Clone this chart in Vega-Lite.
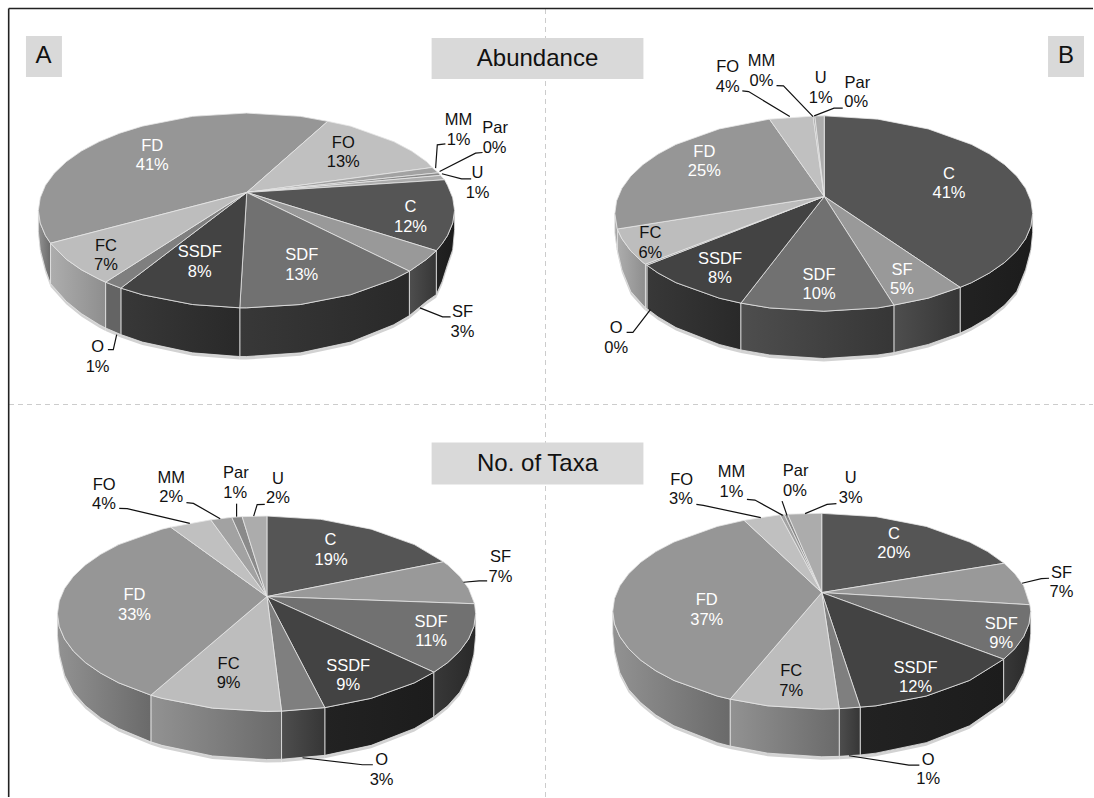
{"$schema":"https://vega.github.io/schema/vega-lite/v6.json","width":1094,"height":798,"padding":0,"autosize":{"type":"fit","contains":"padding"},"background":"white","view":{"stroke":null},
"datasets":{
"frame":[{"x":8.7,"x2":8.7,"y":8.5,"y2":798},{"x":8.7,"x2":1094,"y":8.5,"y2":8.5}],
"dash":[{"x":546,"x2":546,"y":9,"y2":798},{"x":9,"x2":1094,"y":405,"y2":405}],
"boxes":[{"x":26,"x2":62,"y":36,"y2":77},{"x":432,"x2":644,"y":38,"y2":79},{"x":1049,"x2":1085,"y":36,"y2":77},{"x":432,"x2":644,"y":443,"y2":485}],
"titles":[{"t":"A","x":43.5,"y":56.5},{"t":"Abundance","x":538,"y":59},{"t":"B","x":1067,"y":56.5},{"t":"No. of Taxa","x":538,"y":464.5}],
"walls":[
{"w":"aC","tone":"d1","x":455,"y":210.7,"y2":230},{"w":"aC","tone":"d1","x":453.1,"y":223.4,"y2":250},{"w":"aC","tone":"d1","x":447.9,"y":235.9,"y2":265},{"w":"aC","tone":"d1","x":442.5,"y":244,"y2":282},{"w":"aC","tone":"d1","x":436.7,"y":251,"y2":295},
{"w":"aSF","tone":"d3","x":436.7,"y":251,"y2":295},{"w":"aSF","tone":"d3","x":427.1,"y":259.5,"y2":301.7},{"w":"aSF","tone":"d3","x":409.8,"y":271.5,"y2":316},
{"w":"aSDF","tone":"d2","x":409.8,"y":271.5,"y2":316},{"w":"aSDF","tone":"d2","x":394,"y":279.6,"y2":325.2},{"w":"aSDF","tone":"d2","x":350.9,"y":295.1,"y2":342.5},{"w":"aSDF","tone":"d2","x":300.6,"y":304.9,"y2":353.3},{"w":"aSDF","tone":"d2","x":246.7,"y":308.2,"y2":357},{"w":"aSDF","tone":"d2","x":240,"y":308.2,"y2":357},
{"w":"aSSDF","tone":"d2","x":240,"y":308.2,"y2":357},{"w":"aSSDF","tone":"d2","x":192.8,"y":304.9,"y2":353.3},{"w":"aSSDF","tone":"d2","x":142.5,"y":295.1,"y2":342.5},{"w":"aSSDF","tone":"d2","x":121,"y":288.5,"y2":335},
{"w":"aO","tone":"g1","x":121,"y":288.5,"y2":335},{"w":"aO","tone":"g1","x":105.7,"y":282.5,"y2":328.4},
{"w":"aFC","tone":"g3","x":105.7,"y":282.5,"y2":328.4},{"w":"aFC","tone":"g3","x":99.4,"y":279.6,"y2":325.2},{"w":"aFC","tone":"g3","x":81.4,"y":270.1,"y2":314},{"w":"aFC","tone":"g3","x":66.3,"y":259.5,"y2":301.7},{"w":"aFC","tone":"g3","x":50.6,"y":243.5,"y2":284},
{"w":"aFD","tone":"g2","x":50.6,"y":243.5,"y2":284},{"w":"aFD","tone":"g2","x":45.5,"y":235.9,"y2":270},{"w":"aFD","tone":"g2","x":40.3,"y":223.4,"y2":250},{"w":"aFD","tone":"g2","x":38.4,"y":210.7,"y2":232},
{"w":"bC","tone":"d1","x":1033.6,"y":213.8,"y2":233},{"w":"bC","tone":"d1","x":1031.8,"y":226.6,"y2":250},{"w":"bC","tone":"d1","x":1026.5,"y":239.1,"y2":270},{"w":"bC","tone":"d1","x":1017.7,"y":251.2,"y2":291.8},{"w":"bC","tone":"d1","x":1005.6,"y":262.7,"y2":305.4},{"w":"bC","tone":"d1","x":990.4,"y":273.3,"y2":317.3},{"w":"bC","tone":"d1","x":972.4,"y":283,"y2":328},{"w":"bC","tone":"d1","x":961,"y":287.7,"y2":333.5},
{"w":"bSF","tone":"d3","x":961,"y":287.7,"y2":333.5},{"w":"bSF","tone":"d3","x":929.1,"y":298.5,"y2":344.9},{"w":"bSF","tone":"d3","x":894.7,"y":305.5,"y2":353},
{"w":"bSDF","tone":"d3","x":894.7,"y":305.5,"y2":353},{"w":"bSDF","tone":"d3","x":878.6,"y":308.3,"y2":355.4},{"w":"bSDF","tone":"d3","x":824.5,"y":311.6,"y2":359},{"w":"bSDF","tone":"d3","x":770.4,"y":308.3,"y2":355.4},{"w":"bSDF","tone":"d3","x":741.6,"y":303.5,"y2":350.4},
{"w":"bSSDF","tone":"d2","x":741.6,"y":303.5,"y2":350.4},{"w":"bSSDF","tone":"d2","x":719.9,"y":298.5,"y2":344.9},{"w":"bSSDF","tone":"d2","x":676.6,"y":283,"y2":328},{"w":"bSSDF","tone":"d2","x":658.6,"y":273.3,"y2":317.3},{"w":"bSSDF","tone":"d2","x":647.5,"y":265.5,"y2":309},
{"w":"bO","tone":"g1","x":647.5,"y":265.5,"y2":309},{"w":"bO","tone":"g1","x":646,"y":264.5,"y2":308},
{"w":"bFC","tone":"g3","x":646,"y":264.5,"y2":308},{"w":"bFC","tone":"g3","x":643.4,"y":262.7,"y2":305.4},{"w":"bFC","tone":"g3","x":631.3,"y":251.2,"y2":291.8},{"w":"bFC","tone":"g3","x":622.5,"y":239.1,"y2":270},{"w":"bFC","tone":"g3","x":617.8,"y":229.3,"y2":250},
{"w":"bFD","tone":"g3","x":617.8,"y":229.3,"y2":250},{"w":"bFD","tone":"g3","x":615.4,"y":213.8,"y2":233},
{"w":"cSDF","tone":"d2","x":476.1,"y":614.5,"y2":636},{"w":"cSDF","tone":"d2","x":474.3,"y":627.3,"y2":655},{"w":"cSDF","tone":"d2","x":469,"y":639.8,"y2":676},{"w":"cSDF","tone":"d2","x":460.2,"y":651.9,"y2":693},{"w":"cSDF","tone":"d2","x":448.1,"y":663.4,"y2":706.7},{"w":"cSDF","tone":"d2","x":434.3,"y":673,"y2":717.7},
{"w":"cSSDF","tone":"d1","x":434.3,"y":673,"y2":717.7},{"w":"cSSDF","tone":"d1","x":414.8,"y":683.7,"y2":729.4},{"w":"cSSDF","tone":"d1","x":371.5,"y":699.2,"y2":746.3},{"w":"cSSDF","tone":"d1","x":325.1,"y":708.5,"y2":756.3},
{"w":"cO","tone":"d3","x":325.1,"y":708.5,"y2":756.3},{"w":"cO","tone":"d3","x":281.8,"y":712,"y2":760.2},
{"w":"cFC","tone":"g2","x":281.8,"y":712,"y2":760.2},{"w":"cFC","tone":"g2","x":266.8,"y":712.3,"y2":760.5},{"w":"cFC","tone":"g2","x":212.6,"y":709,"y2":756.9},{"w":"cFC","tone":"g2","x":162.1,"y":699.2,"y2":746.3},{"w":"cFC","tone":"g2","x":151,"y":696,"y2":742.8},
{"w":"cFD","tone":"g2","x":151,"y":696,"y2":742.8},{"w":"cFD","tone":"g2","x":118.8,"y":683.7,"y2":729.4},{"w":"cFD","tone":"g2","x":100.8,"y":674,"y2":718.8},{"w":"cFD","tone":"g2","x":85.5,"y":663.4,"y2":706.7},{"w":"cFD","tone":"g2","x":73.4,"y":651.9,"y2":693},{"w":"cFD","tone":"g2","x":64.6,"y":639.8,"y2":676},{"w":"cFD","tone":"g2","x":59.3,"y":627.3,"y2":655},{"w":"cFD","tone":"g2","x":57.5,"y":614.5,"y2":636},
{"w":"dSDF","tone":"d2","x":1031.7,"y":612,"y2":634},{"w":"dSDF","tone":"d2","x":1029.9,"y":624.8,"y2":652},{"w":"dSDF","tone":"d2","x":1024.6,"y":637.4,"y2":673.5},{"w":"dSDF","tone":"d2","x":1015.8,"y":649.5,"y2":690.3},{"w":"dSDF","tone":"d2","x":1004.6,"y":660,"y2":703},
{"w":"dSSDF","tone":"d1","x":1004.6,"y":660,"y2":703},{"w":"dSSDF","tone":"d1","x":970.4,"y":681.3,"y2":726.7},{"w":"dSSDF","tone":"d1","x":927.1,"y":696.9,"y2":743.6},{"w":"dSSDF","tone":"d1","x":876.7,"y":706.7,"y2":754.1},{"w":"dSSDF","tone":"d1","x":861,"y":708,"y2":755.9},
{"w":"dO","tone":"d3","x":861,"y":708,"y2":755.9},{"w":"dO","tone":"d3","x":840,"y":709.5,"y2":757.3},
{"w":"dFC","tone":"g2","x":840,"y":709.5,"y2":757.3},{"w":"dFC","tone":"g2","x":822.5,"y":710,"y2":757.7},{"w":"dFC","tone":"g2","x":768.3,"y":706.7,"y2":754.1},{"w":"dFC","tone":"g2","x":730.8,"y":700,"y2":747},
{"w":"dFD","tone":"g2","x":730.8,"y":700,"y2":747},{"w":"dFD","tone":"g2","x":717.9,"y":696.9,"y2":743.6},{"w":"dFD","tone":"g2","x":674.6,"y":681.3,"y2":726.7},{"w":"dFD","tone":"g2","x":656.5,"y":671.7,"y2":716},{"w":"dFD","tone":"g2","x":641.3,"y":661,"y2":703.5},{"w":"dFD","tone":"g2","x":629.2,"y":649.5,"y2":690.3},{"w":"dFD","tone":"g2","x":620.4,"y":637.4,"y2":673.5},{"w":"dFD","tone":"g2","x":615.1,"y":624.8,"y2":652},{"w":"dFD","tone":"g2","x":613.3,"y":612,"y2":634}
],
"tops":[
{"p":"A","s":"FD","x":247,"y":192.7},{"p":"A","s":"FD","x":50.6,"y":243.5},{"p":"A","s":"FD","x":45.5,"y":235.9},{"p":"A","s":"FD","x":40.3,"y":223.4},{"p":"A","s":"FD","x":38.4,"y":210.7},{"p":"A","s":"FD","x":40.3,"y":198},{"p":"A","s":"FD","x":45.5,"y":185.5},{"p":"A","s":"FD","x":54.3,"y":173.4},{"p":"A","s":"FD","x":66.3,"y":161.9},{"p":"A","s":"FD","x":81.4,"y":151.3},{"p":"A","s":"FD","x":99.4,"y":141.8},{"p":"A","s":"FD","x":119.9,"y":133.3},{"p":"A","s":"FD","x":142.5,"y":126.3},{"p":"A","s":"FD","x":192.8,"y":116.5},{"p":"A","s":"FD","x":246.7,"y":113.2},{"p":"A","s":"FD","x":300.6,"y":116.5},{"p":"A","s":"FD","x":328,"y":121.5},
{"p":"A","s":"FO","x":247,"y":192.7},{"p":"A","s":"FO","x":328,"y":121.5},{"p":"A","s":"FO","x":350.9,"y":126.3},{"p":"A","s":"FO","x":394,"y":141.8},{"p":"A","s":"FO","x":412,"y":151.3},{"p":"A","s":"FO","x":427.1,"y":161.9},{"p":"A","s":"FO","x":432.5,"y":167.7},
{"p":"A","s":"MM","x":247,"y":192.7},{"p":"A","s":"MM","x":432.5,"y":167.7},{"p":"A","s":"MM","x":438.8,"y":173},
{"p":"A","s":"Par","x":247,"y":192.7},{"p":"A","s":"Par","x":438.8,"y":173},{"p":"A","s":"Par","x":441,"y":175.6},
{"p":"A","s":"U","x":247,"y":192.7},{"p":"A","s":"U","x":441,"y":175.6},{"p":"A","s":"U","x":445,"y":180},
{"p":"A","s":"C","x":247,"y":192.7},{"p":"A","s":"C","x":445,"y":180},{"p":"A","s":"C","x":447.9,"y":185.5},{"p":"A","s":"C","x":453.1,"y":198},{"p":"A","s":"C","x":455,"y":210.7},{"p":"A","s":"C","x":453.1,"y":223.4},{"p":"A","s":"C","x":447.9,"y":235.9},{"p":"A","s":"C","x":442.5,"y":244},{"p":"A","s":"C","x":436.7,"y":251},
{"p":"A","s":"SF","x":247,"y":192.7},{"p":"A","s":"SF","x":436.7,"y":251},{"p":"A","s":"SF","x":427.1,"y":259.5},{"p":"A","s":"SF","x":409.8,"y":271.5},
{"p":"A","s":"SDF","x":247,"y":192.7},{"p":"A","s":"SDF","x":409.8,"y":271.5},{"p":"A","s":"SDF","x":394,"y":279.6},{"p":"A","s":"SDF","x":350.9,"y":295.1},{"p":"A","s":"SDF","x":300.6,"y":304.9},{"p":"A","s":"SDF","x":246.7,"y":308.2},{"p":"A","s":"SDF","x":240,"y":308.2},
{"p":"A","s":"SSDF","x":247,"y":192.7},{"p":"A","s":"SSDF","x":240,"y":308.2},{"p":"A","s":"SSDF","x":192.8,"y":304.9},{"p":"A","s":"SSDF","x":142.5,"y":295.1},{"p":"A","s":"SSDF","x":121,"y":288.5},
{"p":"A","s":"O","x":247,"y":192.7},{"p":"A","s":"O","x":121,"y":288.5},{"p":"A","s":"O","x":105.7,"y":282.5},
{"p":"A","s":"FC","x":247,"y":192.7},{"p":"A","s":"FC","x":105.7,"y":282.5},{"p":"A","s":"FC","x":99.4,"y":279.6},{"p":"A","s":"FC","x":81.4,"y":270.1},{"p":"A","s":"FC","x":66.3,"y":259.5},{"p":"A","s":"FC","x":50.6,"y":243.5},
{"p":"B","s":"C","x":825,"y":196.7},{"p":"B","s":"C","x":825,"y":116},{"p":"B","s":"C","x":878.6,"y":119.3},{"p":"B","s":"C","x":929.1,"y":129.1},{"p":"B","s":"C","x":972.4,"y":144.6},{"p":"B","s":"C","x":990.4,"y":154.3},{"p":"B","s":"C","x":1005.6,"y":164.9},{"p":"B","s":"C","x":1017.7,"y":176.4},{"p":"B","s":"C","x":1026.5,"y":188.5},{"p":"B","s":"C","x":1031.8,"y":201},{"p":"B","s":"C","x":1033.6,"y":213.8},{"p":"B","s":"C","x":1031.8,"y":226.6},{"p":"B","s":"C","x":1026.5,"y":239.1},{"p":"B","s":"C","x":1017.7,"y":251.2},{"p":"B","s":"C","x":1005.6,"y":262.7},{"p":"B","s":"C","x":990.4,"y":273.3},{"p":"B","s":"C","x":972.4,"y":283},{"p":"B","s":"C","x":961,"y":287.7},
{"p":"B","s":"SF","x":825,"y":196.7},{"p":"B","s":"SF","x":961,"y":287.7},{"p":"B","s":"SF","x":929.1,"y":298.5},{"p":"B","s":"SF","x":894.7,"y":305.5},
{"p":"B","s":"SDF","x":825,"y":196.7},{"p":"B","s":"SDF","x":894.7,"y":305.5},{"p":"B","s":"SDF","x":878.6,"y":308.3},{"p":"B","s":"SDF","x":824.5,"y":311.6},{"p":"B","s":"SDF","x":770.4,"y":308.3},{"p":"B","s":"SDF","x":741.6,"y":303.5},
{"p":"B","s":"SSDF","x":825,"y":196.7},{"p":"B","s":"SSDF","x":741.6,"y":303.5},{"p":"B","s":"SSDF","x":719.9,"y":298.5},{"p":"B","s":"SSDF","x":676.6,"y":283},{"p":"B","s":"SSDF","x":658.6,"y":273.3},{"p":"B","s":"SSDF","x":647.5,"y":265.5},
{"p":"B","s":"O","x":825,"y":196.7},{"p":"B","s":"O","x":647.5,"y":265.5},{"p":"B","s":"O","x":646,"y":264.5},
{"p":"B","s":"FC","x":825,"y":196.7},{"p":"B","s":"FC","x":646,"y":264.5},{"p":"B","s":"FC","x":643.4,"y":262.7},{"p":"B","s":"FC","x":631.3,"y":251.2},{"p":"B","s":"FC","x":622.5,"y":239.1},{"p":"B","s":"FC","x":617.8,"y":229.3},
{"p":"B","s":"FD","x":825,"y":196.7},{"p":"B","s":"FD","x":617.8,"y":229.3},{"p":"B","s":"FD","x":615.4,"y":213.8},{"p":"B","s":"FD","x":617.2,"y":201},{"p":"B","s":"FD","x":622.5,"y":188.5},{"p":"B","s":"FD","x":631.3,"y":176.4},{"p":"B","s":"FD","x":643.4,"y":164.9},{"p":"B","s":"FD","x":658.6,"y":154.3},{"p":"B","s":"FD","x":676.6,"y":144.6},{"p":"B","s":"FD","x":719.9,"y":129.1},{"p":"B","s":"FD","x":770.2,"y":119.3},
{"p":"B","s":"FO","x":825,"y":196.7},{"p":"B","s":"FO","x":770.2,"y":119.3},{"p":"B","s":"FO","x":813.8,"y":116.3},
{"p":"B","s":"MM","x":825,"y":196.7},{"p":"B","s":"MM","x":813.8,"y":116.3},{"p":"B","s":"MM","x":815.6,"y":116.2},
{"p":"B","s":"U","x":825,"y":196.7},{"p":"B","s":"U","x":815.6,"y":116.2},{"p":"B","s":"U","x":825,"y":116},
{"p":"C","s":"C","x":267.2,"y":597.3},{"p":"C","s":"C","x":267.2,"y":516.7},{"p":"C","s":"C","x":321,"y":520},{"p":"C","s":"C","x":371.5,"y":529.8},{"p":"C","s":"C","x":414.8,"y":545.3},{"p":"C","s":"C","x":443.7,"y":562.5},
{"p":"C","s":"SF","x":267.2,"y":597.3},{"p":"C","s":"SF","x":443.7,"y":562.5},{"p":"C","s":"SF","x":448.1,"y":565.6},{"p":"C","s":"SF","x":460.2,"y":577.1},{"p":"C","s":"SF","x":469,"y":589.2},{"p":"C","s":"SF","x":475,"y":604.5},
{"p":"C","s":"SDF","x":267.2,"y":597.3},{"p":"C","s":"SDF","x":475,"y":604.5},{"p":"C","s":"SDF","x":476.1,"y":614.5},{"p":"C","s":"SDF","x":474.3,"y":627.3},{"p":"C","s":"SDF","x":469,"y":639.8},{"p":"C","s":"SDF","x":460.2,"y":651.9},{"p":"C","s":"SDF","x":448.1,"y":663.4},{"p":"C","s":"SDF","x":434.3,"y":673},
{"p":"C","s":"SSDF","x":267.2,"y":597.3},{"p":"C","s":"SSDF","x":434.3,"y":673},{"p":"C","s":"SSDF","x":414.8,"y":683.7},{"p":"C","s":"SSDF","x":371.5,"y":699.2},{"p":"C","s":"SSDF","x":325.1,"y":708.5},
{"p":"C","s":"O","x":267.2,"y":597.3},{"p":"C","s":"O","x":325.1,"y":708.5},{"p":"C","s":"O","x":281.8,"y":712},
{"p":"C","s":"FC","x":267.2,"y":597.3},{"p":"C","s":"FC","x":281.8,"y":712},{"p":"C","s":"FC","x":266.8,"y":712.3},{"p":"C","s":"FC","x":212.6,"y":709},{"p":"C","s":"FC","x":162.1,"y":699.2},{"p":"C","s":"FC","x":151,"y":696},
{"p":"C","s":"FD","x":267.2,"y":597.3},{"p":"C","s":"FD","x":151,"y":696},{"p":"C","s":"FD","x":118.8,"y":683.7},{"p":"C","s":"FD","x":100.8,"y":674},{"p":"C","s":"FD","x":85.5,"y":663.4},{"p":"C","s":"FD","x":73.4,"y":651.9},{"p":"C","s":"FD","x":64.6,"y":639.8},{"p":"C","s":"FD","x":59.3,"y":627.3},{"p":"C","s":"FD","x":57.5,"y":614.5},{"p":"C","s":"FD","x":59.3,"y":601.7},{"p":"C","s":"FD","x":64.6,"y":589.2},{"p":"C","s":"FD","x":73.4,"y":577.1},{"p":"C","s":"FD","x":85.5,"y":565.6},{"p":"C","s":"FD","x":100.8,"y":555},{"p":"C","s":"FD","x":118.8,"y":545.3},{"p":"C","s":"FD","x":162.1,"y":529.8},{"p":"C","s":"FD","x":170.9,"y":527.8},
{"p":"C","s":"FO","x":267.2,"y":597.3},{"p":"C","s":"FO","x":170.9,"y":527.8},{"p":"C","s":"FO","x":211,"y":520.5},
{"p":"C","s":"MM","x":267.2,"y":597.3},{"p":"C","s":"MM","x":211,"y":520.5},{"p":"C","s":"MM","x":232,"y":518},
{"p":"C","s":"Par","x":267.2,"y":597.3},{"p":"C","s":"Par","x":232,"y":518},{"p":"C","s":"Par","x":242.4,"y":517.3},
{"p":"C","s":"U","x":267.2,"y":597.3},{"p":"C","s":"U","x":242.4,"y":517.3},{"p":"C","s":"U","x":267.2,"y":516.7},
{"p":"D","s":"C","x":822.5,"y":593.3},{"p":"D","s":"C","x":822.5,"y":514},{"p":"D","s":"C","x":876.7,"y":517.3},{"p":"D","s":"C","x":927.1,"y":527.1},{"p":"D","s":"C","x":970.4,"y":542.7},{"p":"D","s":"C","x":988.5,"y":552.3},{"p":"D","s":"C","x":1005,"y":564},
{"p":"D","s":"SF","x":822.5,"y":593.3},{"p":"D","s":"SF","x":1005,"y":564},{"p":"D","s":"SF","x":1015.8,"y":574.5},{"p":"D","s":"SF","x":1024.6,"y":586.6},{"p":"D","s":"SF","x":1030.8,"y":605.5},
{"p":"D","s":"SDF","x":822.5,"y":593.3},{"p":"D","s":"SDF","x":1030.8,"y":605.5},{"p":"D","s":"SDF","x":1031.7,"y":612},{"p":"D","s":"SDF","x":1029.9,"y":624.8},{"p":"D","s":"SDF","x":1024.6,"y":637.4},{"p":"D","s":"SDF","x":1015.8,"y":649.5},{"p":"D","s":"SDF","x":1004.6,"y":660},
{"p":"D","s":"SSDF","x":822.5,"y":593.3},{"p":"D","s":"SSDF","x":1004.6,"y":660},{"p":"D","s":"SSDF","x":970.4,"y":681.3},{"p":"D","s":"SSDF","x":927.1,"y":696.9},{"p":"D","s":"SSDF","x":876.7,"y":706.7},{"p":"D","s":"SSDF","x":861,"y":708},
{"p":"D","s":"O","x":822.5,"y":593.3},{"p":"D","s":"O","x":861,"y":708},{"p":"D","s":"O","x":840,"y":709.5},
{"p":"D","s":"FC","x":822.5,"y":593.3},{"p":"D","s":"FC","x":840,"y":709.5},{"p":"D","s":"FC","x":822.5,"y":710},{"p":"D","s":"FC","x":768.3,"y":706.7},{"p":"D","s":"FC","x":730.8,"y":700},
{"p":"D","s":"FD","x":822.5,"y":593.3},{"p":"D","s":"FD","x":730.8,"y":700},{"p":"D","s":"FD","x":717.9,"y":696.9},{"p":"D","s":"FD","x":674.6,"y":681.3},{"p":"D","s":"FD","x":656.5,"y":671.7},{"p":"D","s":"FD","x":641.3,"y":661},{"p":"D","s":"FD","x":629.2,"y":649.5},{"p":"D","s":"FD","x":620.4,"y":637.4},{"p":"D","s":"FD","x":615.1,"y":624.8},{"p":"D","s":"FD","x":613.3,"y":612},{"p":"D","s":"FD","x":615.1,"y":599.2},{"p":"D","s":"FD","x":620.4,"y":586.6},{"p":"D","s":"FD","x":629.2,"y":574.5},{"p":"D","s":"FD","x":641.3,"y":563},{"p":"D","s":"FD","x":656.5,"y":552.3},{"p":"D","s":"FD","x":674.6,"y":542.7},{"p":"D","s":"FD","x":717.9,"y":527.1},{"p":"D","s":"FD","x":744.8,"y":521},
{"p":"D","s":"FO","x":822.5,"y":593.3},{"p":"D","s":"FO","x":744.8,"y":521},{"p":"D","s":"FO","x":768.3,"y":517.3},{"p":"D","s":"FO","x":780.7,"y":515.5},
{"p":"D","s":"MM","x":822.5,"y":593.3},{"p":"D","s":"MM","x":780.7,"y":515.5},{"p":"D","s":"MM","x":785,"y":515},
{"p":"D","s":"Par","x":822.5,"y":593.3},{"p":"D","s":"Par","x":785,"y":515},{"p":"D","s":"Par","x":788.4,"y":514.8},
{"p":"D","s":"U","x":822.5,"y":593.3},{"p":"D","s":"U","x":788.4,"y":514.8},{"p":"D","s":"U","x":822.5,"y":514}
],
"leaders":[
{"k":"aMM","x":445.8,"y":144},{"k":"aMM","x":437.7,"y":145},{"k":"aMM","x":436,"y":168.3},
{"k":"aPar","x":483,"y":152.7},{"k":"aPar","x":476,"y":153.3},{"k":"aPar","x":440,"y":171.7},
{"k":"aU","x":471.6,"y":179},{"k":"aU","x":462,"y":179},{"k":"aU","x":442.3,"y":174},
{"k":"aSF","x":451,"y":317.3},{"k":"aSF","x":443,"y":317.3},{"k":"aSF","x":420.3,"y":308.3},
{"k":"aO","x":108,"y":350},{"k":"aO","x":113.4,"y":350},{"k":"aO","x":116.8,"y":335},
{"k":"bFO","x":743,"y":91},{"k":"bFO","x":749.3,"y":91.7},{"k":"bFO","x":790.5,"y":116.7},
{"k":"bMM","x":777.2,"y":85.7},{"k":"bMM","x":784.2,"y":86},{"k":"bMM","x":813.8,"y":116.7},
{"k":"bPar","x":843.5,"y":108.3},{"k":"bPar","x":834.8,"y":108.3},{"k":"bPar","x":814.9,"y":116},
{"k":"bO","x":627.2,"y":332.7},{"k":"bO","x":633.5,"y":332.7},{"k":"bO","x":651,"y":310},
{"k":"cFO","x":119.3,"y":509},{"k":"cFO","x":127.3,"y":509.3},{"k":"cFO","x":190,"y":524},
{"k":"cMM","x":186.6,"y":503.3},{"k":"cMM","x":193.6,"y":504},{"k":"cMM","x":220.4,"y":519.3},
{"k":"cPar","x":236.8,"y":504.3},{"k":"cPar","x":236.8,"y":517.3},
{"k":"cU","x":265,"y":505},{"k":"cU","x":257.4,"y":505.3},{"k":"cU","x":253.9,"y":516.7},
{"k":"cSF","x":487.6,"y":581.7},{"k":"cSF","x":479.6,"y":581.7},{"k":"cSF","x":463.9,"y":583},
{"k":"cO","x":373.2,"y":765.7},{"k":"cO","x":362.8,"y":765.7},{"k":"cO","x":302.8,"y":758.7},
{"k":"dFO","x":697,"y":505},{"k":"dFO","x":704,"y":506},{"k":"dFO","x":761.5,"y":518.3},
{"k":"dMM","x":747.6,"y":500},{"k":"dMM","x":755.6,"y":500.7},{"k":"dMM","x":783.5,"y":516},
{"k":"dPar","x":782.8,"y":501.7},{"k":"dPar","x":787.7,"y":516},
{"k":"dU","x":837.2,"y":504.3},{"k":"dU","x":827.8,"y":505},{"k":"dU","x":805.8,"y":514.3},
{"k":"dSF","x":1050,"y":579},{"k":"dSF","x":1042.3,"y":579.3},{"k":"dSF","x":1023,"y":584},
{"k":"dO","x":920.2,"y":766},{"k":"dO","x":909.7,"y":766},{"k":"dO","x":849.8,"y":756.7}
],
"labels":[
{"t":"FD","x":152.4,"y":145.7,"on":"dark"},{"t":"41%","x":152.4,"y":164.8,"on":"dark"},{"t":"FO","x":343.6,"y":143.3,"on":"light"},{"t":"13%","x":343.6,"y":162.7,"on":"light"},{"t":"MM","x":459,"y":120,"on":"light"},{"t":"1%","x":459,"y":140,"on":"light"},{"t":"Par","x":495.6,"y":128.3,"on":"light"},{"t":"0%","x":495,"y":148.3,"on":"light"},{"t":"U","x":478,"y":173.3,"on":"light"},{"t":"1%","x":478,"y":193.3,"on":"light"},{"t":"C","x":410.9,"y":207.7,"on":"dark"},{"t":"12%","x":410.9,"y":227.7,"on":"dark"},{"t":"SF","x":462.9,"y":312.3,"on":"light"},{"t":"3%","x":462.9,"y":332.3,"on":"light"},{"t":"SDF","x":302,"y":255.7,"on":"dark"},{"t":"13%","x":302,"y":275.3,"on":"dark"},{"t":"SSDF","x":199.9,"y":252.7,"on":"dark"},{"t":"8%","x":199.9,"y":272.3,"on":"dark"},{"t":"FC","x":106,"y":246,"on":"light"},{"t":"7%","x":106,"y":265.7,"on":"light"},{"t":"O","x":97.7,"y":347.7,"on":"light"},{"t":"1%","x":97.7,"y":367.7,"on":"light"},
{"t":"C","x":949.9,"y":174,"on":"dark"},{"t":"41%","x":949.9,"y":193.3,"on":"dark"},{"t":"SF","x":902.8,"y":270,"on":"dark"},{"t":"5%","x":902.8,"y":289.3,"on":"dark"},{"t":"SDF","x":819.8,"y":275.3,"on":"dark"},{"t":"10%","x":819.8,"y":294.7,"on":"dark"},{"t":"SSDF","x":720.7,"y":259.3,"on":"dark"},{"t":"8%","x":720.7,"y":278.7,"on":"dark"},{"t":"FC","x":650.9,"y":233.3,"on":"light"},{"t":"6%","x":650.9,"y":253,"on":"light"},{"t":"FD","x":705,"y":152.3,"on":"dark"},{"t":"25%","x":705,"y":171.7,"on":"dark"},{"t":"FO","x":728.4,"y":66.7,"on":"light"},{"t":"4%","x":728.4,"y":86.7,"on":"light"},{"t":"MM","x":762.2,"y":61.3,"on":"light"},{"t":"0%","x":762.2,"y":81,"on":"light"},{"t":"U","x":821.5,"y":78,"on":"light"},{"t":"1%","x":821.5,"y":98,"on":"light"},{"t":"Par","x":858.1,"y":82.7,"on":"light"},{"t":"0%","x":857,"y":102.3,"on":"light"},{"t":"O","x":616.8,"y":328.3,"on":"light"},{"t":"0%","x":616.8,"y":348,"on":"light"},
{"t":"C","x":330.7,"y":541,"on":"dark"},{"t":"19%","x":331.4,"y":560.7,"on":"dark"},{"t":"SF","x":500.9,"y":558,"on":"light"},{"t":"7%","x":500.9,"y":578,"on":"light"},{"t":"SDF","x":431.5,"y":622.7,"on":"dark"},{"t":"11%","x":431.5,"y":642.3,"on":"dark"},{"t":"SSDF","x":348.5,"y":666.7,"on":"dark"},{"t":"9%","x":348.5,"y":686,"on":"dark"},{"t":"FC","x":228.8,"y":665,"on":"light"},{"t":"9%","x":228.8,"y":684.3,"on":"light"},{"t":"FD","x":134.6,"y":596,"on":"dark"},{"t":"33%","x":134.6,"y":616,"on":"dark"},{"t":"FO","x":104.3,"y":485.3,"on":"light"},{"t":"4%","x":104,"y":504.7,"on":"light"},{"t":"MM","x":171.3,"y":478.3,"on":"light"},{"t":"2%","x":171.3,"y":498,"on":"light"},{"t":"Par","x":236.1,"y":473.3,"on":"light"},{"t":"1%","x":235.4,"y":493.7,"on":"light"},{"t":"U","x":278.3,"y":479.3,"on":"light"},{"t":"2%","x":278.3,"y":499,"on":"light"},{"t":"O","x":381.9,"y":761.3,"on":"light"},{"t":"3%","x":381.9,"y":781.3,"on":"light"},
{"t":"C","x":894.7,"y":534.3,"on":"dark"},{"t":"20%","x":894.7,"y":554,"on":"dark"},{"t":"SF","x":1062.5,"y":573.3,"on":"light"},{"t":"7%","x":1062.5,"y":593,"on":"light"},{"t":"SDF","x":1002.2,"y":624.3,"on":"dark"},{"t":"9%","x":1002.2,"y":644,"on":"dark"},{"t":"SSDF","x":916.4,"y":668.7,"on":"dark"},{"t":"12%","x":916.4,"y":688.3,"on":"dark"},{"t":"FC","x":791.9,"y":671.7,"on":"light"},{"t":"7%","x":791.9,"y":691.7,"on":"light"},{"t":"FD","x":707.4,"y":601,"on":"dark"},{"t":"37%","x":707.4,"y":620.7,"on":"dark"},{"t":"FO","x":682.3,"y":480.7,"on":"light"},{"t":"3%","x":681.6,"y":500,"on":"light"},{"t":"MM","x":732.2,"y":472.7,"on":"light"},{"t":"1%","x":732.2,"y":493,"on":"light"},{"t":"Par","x":796.4,"y":472,"on":"light"},{"t":"0%","x":795.7,"y":491.7,"on":"light"},{"t":"U","x":851.5,"y":478.7,"on":"light"},{"t":"3%","x":851.5,"y":498.7,"on":"light"},{"t":"O","x":929,"y":760.7,"on":"light"},{"t":"1%","x":929,"y":780.3,"on":"light"}
]
},
"encoding":{
"x":{"field":"x","type":"quantitative","scale":{"domain":[0,1094],"nice":false,"zero":false},"axis":null},
"y":{"field":"y","type":"quantitative","scale":{"domain":[0,798],"reverse":true,"nice":false,"zero":false},"axis":null}
},
"layer":[
{"data":{"name":"dash"},"mark":{"type":"rule","color":"#cccccc","strokeWidth":1,"strokeDash":[5,4]},"encoding":{"x2":{"field":"x2"},"y2":{"field":"y2"}}},
{"data":{"name":"frame"},"mark":{"type":"rule","color":"#222222","strokeWidth":1.6},"encoding":{"x2":{"field":"x2"},"y2":{"field":"y2"}}},
{"data":{"name":"boxes"},"mark":{"type":"rect","color":"#d9d9d9"},"encoding":{"x2":{"field":"x2"},"y2":{"field":"y2"}}},
{"data":{"name":"titles"},"mark":{"type":"text","font":"Liberation Sans","fontSize":24,"color":"#111111","baseline":"middle","align":"center"},"encoding":{"text":{"field":"t"}}},
{"data":{"name":"walls"},"encoding":{"y2":{"field":"y2"},"detail":{"field":"w"}},"layer":[
{"mark":{"type":"area","color":"#d2d2d2","y2Offset":3}},
{"transform":[{"filter":{"field":"tone","equal":"d1"}}],"mark":{"type":"area","stroke":"#e4e4e4","strokeWidth":0.8,"color":{"gradient":"linear","x1":0,"y1":0,"x2":1,"y2":0,"stops":[{"offset":0,"color":"#222222"},{"offset":1,"color":"#1c1c1c"}]}}},
{"transform":[{"filter":{"field":"tone","equal":"d2"}}],"mark":{"type":"area","stroke":"#e4e4e4","strokeWidth":0.8,"color":{"gradient":"linear","x1":0,"y1":0,"x2":1,"y2":0,"stops":[{"offset":0,"color":"#383838"},{"offset":1,"color":"#292929"}]}}},
{"transform":[{"filter":{"field":"tone","equal":"d3"}}],"mark":{"type":"area","stroke":"#e4e4e4","strokeWidth":0.8,"color":{"gradient":"linear","x1":0,"y1":0,"x2":1,"y2":0,"stops":[{"offset":0,"color":"#4e4e4e"},{"offset":1,"color":"#363636"}]}}},
{"transform":[{"filter":{"field":"tone","equal":"g1"}}],"mark":{"type":"area","stroke":"#e4e4e4","strokeWidth":0.8,"color":"#646464"}},
{"transform":[{"filter":{"field":"tone","equal":"g2"}}],"mark":{"type":"area","stroke":"#e4e4e4","strokeWidth":0.8,"color":{"gradient":"linear","x1":0,"y1":0,"x2":1,"y2":0,"stops":[{"offset":0,"color":"#929292"},{"offset":1,"color":"#6a6a6a"}]}}},
{"transform":[{"filter":{"field":"tone","equal":"g3"}}],"mark":{"type":"area","stroke":"#e4e4e4","strokeWidth":0.8,"color":{"gradient":"linear","x1":0,"y1":0,"x2":1,"y2":0,"stops":[{"offset":0,"color":"#adadad"},{"offset":1,"color":"#8e8e8e"}]}}}
]},
{"data":{"name":"tops"},"mark":{"type":"line","interpolate":"linear-closed","order":null,"stroke":"#e6e6e6","strokeWidth":0.8},"encoding":{"detail":{"field":"p"},"fill":{"field":"s","type":"nominal","legend":null,"scale":{"domain":["C","SF","SDF","SSDF","O","FC","FD","FO","MM","Par","U"],"range":["#555555","#999999","#717171","#434343","#7f7f7f","#bdbdbd","#969696","#c0c0c0","#a2a2a2","#8a8a8a","#acacac"]}}}},
{"data":{"name":"leaders"},"mark":{"type":"line","order":null,"color":"#111111","strokeWidth":1.2},"encoding":{"detail":{"field":"k"}}},
{"data":{"name":"labels"},"mark":{"type":"text","font":"Liberation Sans","fontSize":16.5,"baseline":"middle","align":"center"},"encoding":{"text":{"field":"t"},"color":{"field":"on","type":"nominal","legend":null,"scale":{"domain":["dark","light"],"range":["#ffffff","#111111"]}}}}
]}
